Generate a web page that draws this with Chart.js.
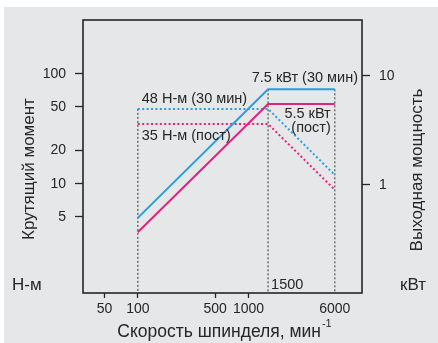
<!DOCTYPE html>
<html><head><meta charset="utf-8">
<script src="https://cdn.jsdelivr.net/npm/chart.js@4/dist/chart.umd.min.js"></script>
<style>html,body{margin:0;padding:0;background:#fff;}canvas{display:block;}</style>
</head><body>
<canvas id="c" width="438" height="343"></canvas>
<script>
// ---- data ----
const speeds = [100, 1500, 6000];            // min^-1
const power30 = [0.5, 7.5, 7.5];             // kW, 30 min
const powerCont = [0.37, 5.5, 5.5];          // kW, continuous
const torque30 = [48, 48, 12];               // N·m, 30 min
const torqueCont = [35, 35, 8.8];            // N·m, continuous
const xTicks = [50, 100, 500, 1000, 6000];
const yTicksLeft = [5, 10, 20, 50, 100];
const yTicksRight = [1, 10];
const markSpeeds = [100, 1500, 6000];

const BLUE = '#2a9fdb', MAG = '#e0247e', INK = '#262626';
const FONT = '"Liberation Sans", Arial, sans-serif';

const xMin = 32, xMax = 10570, yMin = 1.008, yMax = 310, rMin = 0.1028, rMax = 32.3;

const pts = (xs, ys) => xs.map((x, i) => ({x, y: ys[i]}));

const datasets = [
  {data: pts(speeds, power30), yAxisID: 'yR', borderColor: BLUE, borderWidth: 2},
  {data: pts(speeds, powerCont), yAxisID: 'yR', borderColor: MAG, borderWidth: 2},
  {data: pts(speeds, torque30), yAxisID: 'y', borderColor: BLUE, borderWidth: 2, borderDash: [2, 2.4]},
  {data: pts(speeds, torqueCont), yAxisID: 'y', borderColor: MAG, borderWidth: 2, borderDash: [2, 2.4]},
  {data: [{x: markSpeeds[0], y: torque30[0]}, {x: markSpeeds[0], y: yMin}], yAxisID: 'y', borderColor: '#666', borderWidth: 1.4, borderDash: [2, 2]},
  {data: [{x: markSpeeds[1], y: power30[1]}, {x: markSpeeds[1], y: rMin}], yAxisID: 'yR', borderColor: '#666', borderWidth: 1.4, borderDash: [2, 2]},
  {data: [{x: markSpeeds[2], y: power30[2]}, {x: markSpeeds[2], y: rMin}], yAxisID: 'yR', borderColor: '#666', borderWidth: 1.4, borderDash: [2, 2]},
].map((d, i) => Object.assign({pointRadius: 0, fill: false, tension: 0, order: i < 4 ? 0 : 1}, d));

const setTicks = vals => scale => { scale.ticks = vals.map(v => ({value: v})); };

const deco = {
  id: 'deco',
  beforeDraw(chart) {
    const ctx = chart.ctx;
    ctx.save();
    ctx.fillStyle = '#fff';
    ctx.fillRect(0, 0, chart.width, chart.height);
    ctx.fillStyle = '#e6e7e8';
    ctx.fillRect(4, 7, chart.width - 4, chart.height - 7);
    ctx.restore();
  },
  afterDraw(chart) {
    const {ctx, chartArea: a, scales} = chart;
    const X = scales.x, YL = scales.y, YR = scales.yR;
    ctx.save();
    ctx.strokeStyle = INK; ctx.lineWidth = 1.6;
    ctx.strokeRect(a.left, a.top, a.right - a.left, a.bottom - a.top);
    ctx.fillStyle = INK;
    // annotations
    ctx.font = '14.5px ' + FONT;
    ctx.textBaseline = 'middle';
    ctx.textAlign = 'right';
    ctx.fillText('7.5 кВт (30 мин)', a.right - 4, YR.getPixelForValue(power30[1]) - 11);
    ctx.textAlign = 'left';
    ctx.fillText('48 Н-м (30 мин)', X.getPixelForValue(speeds[0]) + 4, YL.getPixelForValue(torque30[0]) - 10);
    ctx.fillText('35 Н-м (пост)', X.getPixelForValue(speeds[0]) + 4, YL.getPixelForValue(torqueCont[0]) + 12);
    ctx.fillText('1500', X.getPixelForValue(speeds[1]) + 3, a.bottom - 8);
    ctx.textAlign = 'right';
    ctx.fillText('5.5 кВт', X.getPixelForValue(speeds[2]) - 4, YR.getPixelForValue(powerCont[1]) + 10);
    ctx.fillText('(пост)', X.getPixelForValue(speeds[2]) - 4, YR.getPixelForValue(powerCont[1]) + 24);
    // units
    ctx.font = '17px ' + FONT;
    ctx.textAlign = 'left';
    ctx.fillText('Н-м', 12, a.bottom - 8);
    ctx.fillText('кВт', 400, a.bottom - 8);
    // rotated titles
    ctx.save();
    ctx.translate(29, 169); ctx.rotate(-Math.PI / 2);
    ctx.textAlign = 'center'; ctx.fillText('Крутящий момент', 0, 0);
    ctx.restore();
    ctx.save();
    ctx.translate(417, 170); ctx.rotate(-Math.PI / 2);
    ctx.textAlign = 'center'; ctx.fillText('Выходная мощность', 0, 0);
    ctx.restore();
    // x title
    const t1 = 'Скорость шпинделя, мин';
    ctx.font = '17.5px ' + FONT;
    const w1 = ctx.measureText(t1).width;
    ctx.font = '11px ' + FONT;
    const w2 = ctx.measureText('-1').width;
    const x0 = 224 - (w1 + w2) / 2;
    ctx.font = '17.5px ' + FONT;
    ctx.textAlign = 'left';
    ctx.fillText(t1, x0, 332);
    ctx.font = '11px ' + FONT;
    ctx.fillText('-1', x0 + w1 + 1, 324);
    ctx.restore();
  }
};

const tickFont = {family: FONT, size: 14};

new Chart(document.getElementById('c'), {
  type: 'line',
  data: {datasets},
  options: {
    responsive: false, animation: false, devicePixelRatio: 1,
    layout: {padding: {top: 20, left: 0, right: 0, bottom: 0}},
    plugins: {legend: {display: false}, tooltip: {enabled: false}},
    scales: {
      x: {
        type: 'logarithmic', position: 'bottom', min: xMin, max: xMax,
        afterBuildTicks: setTicks(xTicks),
        afterFit: s => { s.height = 50; },
        border: {display: false},
        grid: {drawOnChartArea: false, drawTicks: true, tickLength: 5,
               tickColor: c => (c.tick && c.tick.value === 6000) ? 'rgba(0,0,0,0)' : INK, tickWidth: 1.3},
        ticks: {color: INK, font: tickFont, padding: 3, maxRotation: 0, autoSkip: false,
                callback: v => String(v)}
      },
      y: {
        type: 'logarithmic', position: 'left', min: yMin, max: yMax,
        afterBuildTicks: setTicks(yTicksLeft),
        afterFit: s => { s.width = 83; },
        border: {display: false},
        grid: {drawOnChartArea: false, drawTicks: true, tickLength: 8, tickColor: INK, tickWidth: 1.3},
        ticks: {color: INK, font: tickFont, padding: 9, autoSkip: false, callback: v => String(v)}
      },
      yR: {
        type: 'logarithmic', position: 'right', min: rMin, max: rMax,
        afterBuildTicks: setTicks(yTicksRight),
        afterFit: s => { s.width = 76; },
        border: {display: false},
        grid: {drawOnChartArea: false, drawTicks: true, tickLength: 8, tickColor: INK, tickWidth: 1.3},
        ticks: {color: INK, font: tickFont, padding: 9, autoSkip: false, callback: v => String(v)}
      }
    }
  },
  plugins: [deco]
});
</script>
</body></html>
